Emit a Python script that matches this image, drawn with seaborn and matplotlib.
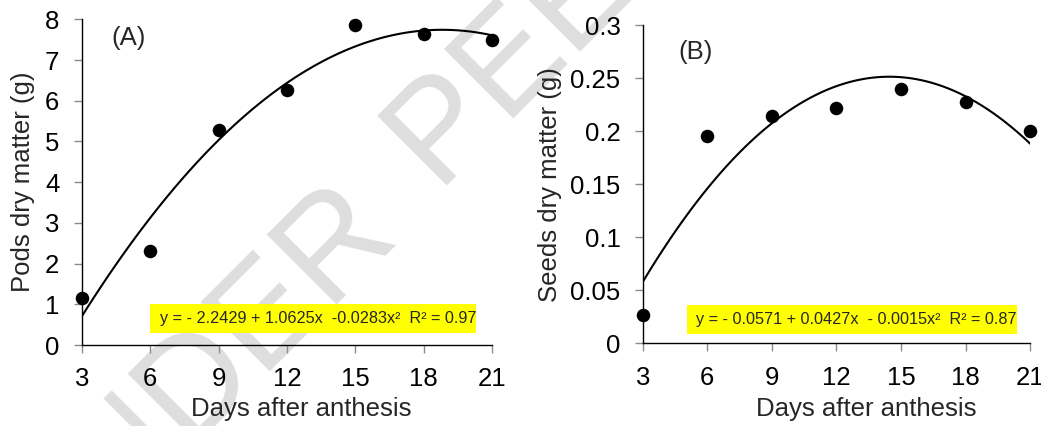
import matplotlib
matplotlib.use("Agg")
import matplotlib.pyplot as plt
from matplotlib.patches import Rectangle
import seaborn as sns
import pandas as pd

# Data
days = [3, 6, 9, 12, 15, 18, 21]
pods_dm = [1.15, 2.30, 5.28, 6.27, 7.85, 7.63, 7.48]
seeds_dm = [0.027, 0.195, 0.2145, 0.222, 0.2395, 0.227, 0.200]

x_ticks = [3, 6, 9, 12, 15, 18, 21]
pods_ticks = [0, 1, 2, 3, 4, 5, 6, 7, 8]
seeds_ticks = [0, 0.05, 0.1, 0.15, 0.2, 0.25, 0.3]
seeds_labels = ["0", "0.05", "0.1", "0.15", "0.2", "0.25", "0.3"]

eq_pods = "y = - 2.2429 + 1.0625x  -0.0283x\u00b2  R\u00b2 = 0.97"
eq_seeds = "y = - 0.0571 + 0.0427x  - 0.0015x\u00b2  R\u00b2 = 0.87"

df = pd.DataFrame({"days": days, "pods": pods_dm, "seeds": seeds_dm})

sns.set_style("ticks")
plt.rcParams["font.family"] = ["Liberation Sans", "DejaVu Sans"]

fig = plt.figure(figsize=(10.41, 4.26), dpi=100)
axA = fig.add_axes([0.0785, 0.190, 0.3944, 0.7647])
axB = fig.add_axes([0.6174, 0.1941, 0.3723, 0.7472])

# watermark behind everything (split at the space so both halves sit right)
wm = dict(rotation=45, rotation_mode="anchor", va="baseline", fontsize=102,
          color="#dedede", zorder=-10)
fig.text(0.3831, 0.4549, "UNDER", ha="right", **wm)
fig.text(0.4211, 0.5479, "PEER REVIEW", ha="left", **wm)

scatter_kws = {"s": 95, "color": "black", "alpha": 1, "linewidths": 0,
               "clip_on": False, "zorder": 4}
line_kws = {"color": "black", "lw": 1.5, "zorder": 3}

panels = [
    (axA, "pods", "Pods dry matter (g)", "(A)", eq_pods),
    (axB, "seeds", "Seeds dry matter (g)", "(B)", eq_seeds),
]

for ax, col, ylab, tag, eq in panels:
    ax.set_facecolor("none")
    sns.regplot(data=df, x="days", y=col, order=2, ci=None, ax=ax,
                scatter_kws=scatter_kws, line_kws=line_kws)
    ax.set_xlim(3, 21)
    ax.set_xticks(x_ticks)
    sns.despine(ax=ax)
    for s in ["left", "bottom"]:
        ax.spines[s].set_linewidth(1.0)
        ax.spines[s].set_color("black")
    ax.tick_params(axis="both", direction="out", length=5.5, width=1,
                   color="#8c8c8c", pad=10.5, labelsize=18.5, labelcolor="black")
    ax.set_xlabel("Days after anthesis", fontsize=18.5)
    ax.set_ylabel(ylab, fontsize=18.5)

# panel A
axA.set_ylim(0, 8)
axA.set_yticks(pods_ticks)
axA.xaxis.set_label_coords(0.534, -0.16)
axA.yaxis.set_label_coords(-0.114, 0.5)
axA.text(0.073, 0.9426, "(A)", transform=axA.transAxes, fontsize=18.5,
         ha="left", va="center")
axA.add_patch(Rectangle((0.1663, 0.0359), 0.7932, 0.09, transform=axA.transAxes,
                        facecolor="#ffff00", edgecolor="none", zorder=2))
axA.text(0.19, 0.0809, eq_pods, transform=axA.transAxes, fontsize=11.7,
         ha="left", va="center", zorder=5)

# panel B
axB.set_ylim(0, 0.3)
axB.set_yticks(seeds_ticks)
axB.set_yticklabels(seeds_labels)
axB.xaxis.set_label_coords(0.576, -0.169)
axB.yaxis.set_label_coords(-0.209, 0.5)
axB.text(0.091, 0.915, "(B)", transform=axB.transAxes, fontsize=18.5,
         ha="left", va="center")
axB.add_patch(Rectangle((0.1135, 0.0283), 0.852, 0.092, transform=axB.transAxes,
                        facecolor="#ffff00", edgecolor="none", zorder=2))
axB.text(0.1375, 0.0743, eq_seeds, transform=axB.transAxes, fontsize=11.7,
         ha="left", va="center", zorder=5)

fig.savefig("out.png", dpi=100)
